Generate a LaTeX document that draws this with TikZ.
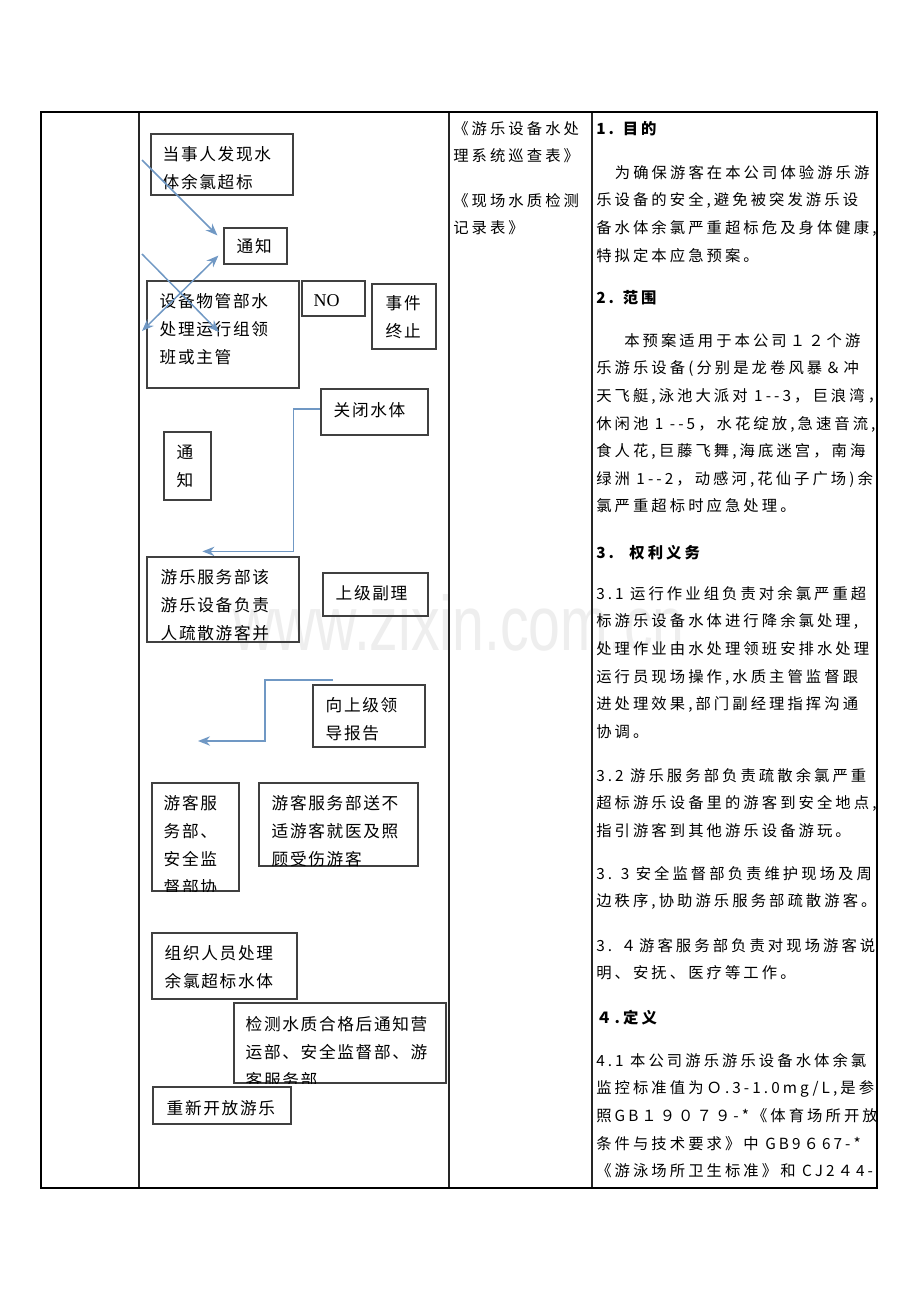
\documentclass[tikz,border=0pt]{standalone}
\usepackage{fontspec}
\usepackage{graphicx}
\setmainfont{Liberation Serif}
\newfontfamily\boxfont[LetterSpace=10]{Noto Sans CJK SC}
\newfontfamily\parafont[LetterSpace=20]{Noto Sans CJK SC}
\newfontfamily\markfont{Liberation Sans}
\usetikzlibrary{arrows.meta,fit}
\definecolor{linkblue}{RGB}{112,152,196}
\begin{document}
\begin{tikzpicture}[x=0.75pt,y=-0.75pt,
  >={Stealth[length=9pt,width=7pt]},
  box/.style={draw=black!75,line width=0.9pt,inner sep=0pt},
  txt/.style={font=\fontsize{12.5}{21}\boxfont,align=left,inner sep=0pt,anchor=north west},
  para/.style={font=\fontsize{11.5}{20.7}\parafont,align=left,inner sep=0pt,anchor=north west},
  link/.style={draw=linkblue,line width=1.1pt}]
  \fill[white] (0,0) rectangle (920,1302);
  \useasboundingbox (0,0) rectangle (920,1302);
  % marca de agua
  \node[font=\fontsize{58}{58}\markfont,text=gray!13,anchor=base west,inner sep=0pt] (wm) at (233,650) {\scalebox{0.74}[1]{www.zixin.com.cn}};
  % tabla
  \draw[line width=0.9pt,black!85] (139,112) -- (139,1188) (449,112) -- (449,1188) (592,112) -- (592,1188);
  \draw[line width=1.9pt] (41,112) rectangle (877,1188);
  % cajas del flujo
  \node[box,fit={(151,134) (293,195)}] (find) {};
  \node[txt] (findt) at ([shift={(12,12.5)}]find.north west) {当事人发现水\\体余氯超标};
  \node[box,fit={(224,228) (287,264)}] (notify) {};
  \node[txt] (notifyt) at ([shift={(13,10.5)}]notify.north west) {通知};
  \node[box,fit={(147,281) (299,388)}] (mgr) {};
  \node[txt] (mgrt) at ([shift={(13,12.5)}]mgr.north west) {设备物管部水\\处理运行组领\\班或主管};
  \node[box,fit={(302,281) (365,316)}] (no) {};
  \node[txt,font=\fontsize{13.5}{16}\rmfamily] (not) at ([shift={(12,14)}]no.north west) {NO};
  \node[box,fit={(372,284) (436,349)}] (stop) {};
  \node[txt] (stopt) at ([shift={(14,11.5)}]stop.north west) {事件\\终止};
  \node[box,fit={(321,389) (428,435)}] (close) {};
  \node[txt] (closet) at ([shift={(13,13.5)}]close.north west) {关闭水体};
  \node[box,fit={(164,432) (211,500)}] (notify2) {};
  \node[txt] (notify2t) at ([shift={(13,13.5)}]notify2.north west) {通\\知};
  \node[box,fit={(147,557) (299,642)}] (evac) {};
  \begin{scope}
    \clip (evac.south west) rectangle (evac.north east);
    \node[txt] (evact) at ([shift={(14,12.5)}]evac.north west) {游乐服务部该\\游乐设备负责\\人疏散游客并};
  \end{scope}
  \node[box,fit={(323,573) (428,616)}] (deputy) {};
  \node[txt] (deputyt) at ([shift={(13,12.5)}]deputy.north west) {上级副理};
  \node[box,fit={(313,685) (425,747)}] (report) {};
  \node[txt] (reportt) at ([shift={(13,12.5)}]report.north west) {向上级领\\导报告};
  \node[box,fit={(152,783) (239,891)}] (assist) {};
  \begin{scope}
    \clip (assist.south west) rectangle (assist.north east);
    \node[txt] (assistt) at ([shift={(12,12.5)}]assist.north west) {游客服\\务部、\\安全监\\督部协};
  \end{scope}
  \node[box,fit={(259,783) (418,866)}] (medic) {};
  \begin{scope}
    \clip (medic.south west) rectangle (medic.north east);
    \node[txt] (medict) at ([shift={(13,12.5)}]medic.north west) {游客服务部送不\\适游客就医及照\\顾受伤游客};
  \end{scope}
  \node[box,fit={(152,933) (297,999)}] (treat) {};
  \node[txt] (treatt) at ([shift={(13,12.5)}]treat.north west) {组织人员处理\\余氯超标水体};
  \node[box,fit={(234,1003) (446,1083)}] (test) {};
  \begin{scope}
    \clip (test.south west) rectangle (test.north east);
    \node[txt] (testt) at ([shift={(12,13.5)}]test.north west) {检测水质合格后通知营\\运部、安全监督部、游\\客服务部};
  \end{scope}
  \node[box,fit={(153,1087) (291,1124)}] (reopen) {};
  \node[txt] (reopent) at ([shift={(14,13.5)}]reopen.north west) {重新开放游乐};
  % flechas
  \coordinate (s1) at (142,160);
  \coordinate (s2) at (142,254);
  \coordinate (e2) at (219,332);
  \coordinate (e3) at (142,331);
  \coordinate (upfree) at (333,680);
  \coordinate (upend) at (198,741);
  \draw[link,->] (s1) -- ([shift={(-6,8)}]notify.north west);
  \draw[link,->] (s2) -- (e2);
  \draw[link,<->] ([shift={(-5,-9)}]notify.south west) -- (e3);
  \draw[link,->] ([shift={(0,-3)}]close.west) -- ++(-27,0) |- ([shift={(56,-5)}]evac.north west);
  \draw[link,->] (upfree) -- ++(-68,0) |- (upend);
  % registros
  \node[para] (rec1) at (453,121) {《游乐设备水处\\理系统巡查表》};
  \node[para] (rec2) at (453,193) {《现场水质检测\\记录表》};
  % texto del plan
  \node[para] (h1) at (596,121) {\textbf{1. 目的}};
  \node[para] (t1) at (596,165) {\hspace*{14pt}为确保游客在本公司体验游乐游\\乐设备的安全,避免被突发游乐设\\备水体余氯严重超标危及身体健康,\\特拟定本应急预案。};
  \node[para] (h2) at (596,290) {\textbf{2. 范围}};
  \node[para] (t2) at (596,333) {\hspace*{21pt}本预案适用于本公司１２个游\\乐游乐设备(分别是龙卷风暴＆冲\\天飞艇,泳池大派对 1-{}-3，巨浪湾，\\休闲池 1 -{}-5，水花绽放,急速音流,\\食人花,巨藤飞舞,海底迷宫，南海\\绿洲 1-{}-2，动感河,花仙子广场)余\\氯严重超标时应急处理。};
  \node[para] (h3) at (596,545) {\textbf{3. \ 权利义务}};
  \node[para] (t31) at (596,586) {3.1 运行作业组负责对余氯严重超\\标游乐设备水体进行降余氯处理,\\处理作业由水处理领班安排水处理\\运行员现场操作,水质主管监督跟\\进处理效果,部门副经理指挥沟通\\协调。};
  \node[para] (t32) at (596,768) {3.2 游乐服务部负责疏散余氯严重\\超标游乐设备里的游客到安全地点,\\指引游客到其他游乐设备游玩。};
  \node[para] (t33) at (596,866) {3. 3 安全监督部负责维护现场及周\\边秩序,协助游乐服务部疏散游客。};
  \node[para] (t34) at (596,938) {3. ４游客服务部负责对现场游客说\\明、安抚、医疗等工作。};
  \node[para] (h4) at (596,1010) {\textbf{４.定义}};
  \node[para] (t41) at (596,1053) {4.1 本公司游乐游乐设备水体余氯\\监控标准值为Ｏ.3-1.0mg/L,是参\\照GB１９０７９-*《体育场所开放\\条件与技术要求》中 GB9６67-*\\《游泳场所卫生标准》和 CJ2４4-};
\end{tikzpicture}
\end{document}
